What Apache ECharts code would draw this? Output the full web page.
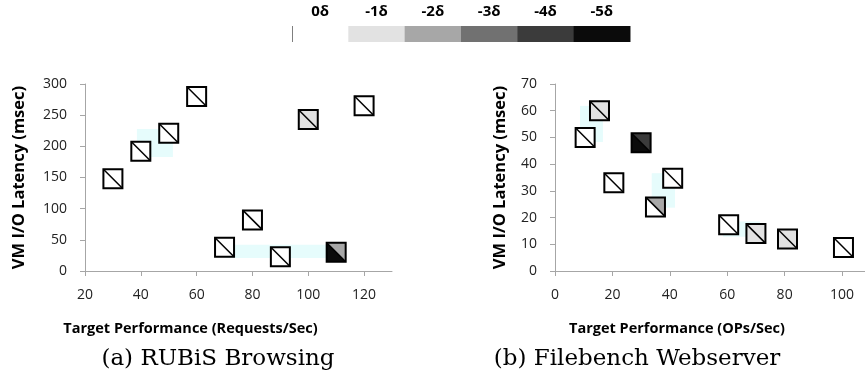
<!DOCTYPE html>
<html>
<head>
<meta charset="utf-8">
<script src="https://cdn.jsdelivr.net/npm/echarts@6/dist/echarts.min.js"></script>
<style>
  html, body { margin: 0; padding: 0; background: #fff; }
  #chart { width: 865px; height: 381px; }
</style>
</head>
<body>
<div id="chart"></div>
<script>
// legend: levels and their grey shades
var levelLabels = ['0δ', '-1δ', '-2δ', '-3δ', '-4δ', '-5δ'];
var shades = ['#ffffff', '#e2e2e2', '#a7a7a7', '#717171', '#3b3b3b', '#0b0b0b'];

// (a) RUBiS Browsing
var rubisX = [30, 40, 50, 60, 70, 80, 90, 100, 110, 120];
var rubisY = [148, 192, 221, 280, 38, 82, 23, 243, 30, 265];
var rubisLower = [0, 0, 0, 0, 0, 0, 0, 1, 5, 0];   // lower-left triangle level
var rubisUpper = [0, 0, 0, 0, 0, 0, 0, 1, 2, 0];   // upper-right triangle level
// highlighted regions [x1, x2, y1, y2]
var rubisZones = [[38.6, 51.5, 183, 228], [70, 110, 21, 42]];

// (b) Filebench Webserver
var fbX = [10.5, 15.5, 20.5, 30, 35, 41, 60.5, 70, 81, 100.5];
var fbY = [50, 60, 33, 48, 24, 34.7, 17.3, 14, 12, 8.8];
var fbLower = [0, 1, 0, 5, 0, 0, 0, 1, 1, 0];
var fbUpper = [0, 1, 0, 4, 2, 0, 0, 1, 1, 0];
var fbZones = [[8.7, 16.7, 48.3, 61.8], [33.7, 41.8, 23.7, 36.6], [58.5, 71.4, 12.8, 18.5]];

var font = 'Open Sans';
var axisColor = '#a6a6a6';

function pts(xs, ys, lo, up) {
    return xs.map(function (x, i) { return [x, ys[i], lo[i], up[i]]; });
}

function renderMarker(params, api) {
    var p = api.coord([api.value(0), api.value(1)]);
    var h = 9.5;
    var x0 = p[0] - h, y0 = p[1] - h, x1 = p[0] + h, y1 = p[1] + h;
    return {
        type: 'group',
        children: [
            { type: 'polygon', shape: { points: [[x0, y0], [x0, y1], [x1, y1]] }, style: { fill: shades[api.value(2)] } },
            { type: 'polygon', shape: { points: [[x0, y0], [x1, y0], [x1, y1]] }, style: { fill: shades[api.value(3)] } },
            { type: 'line', shape: { x1: x0, y1: y0, x2: x1, y2: y1 }, style: { stroke: '#000', lineWidth: 1.5 } },
            { type: 'rect', shape: { x: x0, y: y0, width: 2 * h, height: 2 * h }, style: { fill: null, stroke: '#000', lineWidth: 2 } }
        ]
    };
}

function renderZone(params, api) {
    var a = api.coord([api.value(0), api.value(3)]);
    var b = api.coord([api.value(1), api.value(2)]);
    return {
        type: 'rect',
        shape: { x: a[0], y: a[1], width: b[0] - a[0], height: b[1] - a[1] },
        style: { fill: '#e6fcfc' }
    };
}

function xAxis(idx, min, max, name, nameShift) {
    return {
        type: 'value', gridIndex: idx, min: min, max: max, interval: 20,
        name: name, nameLocation: 'middle', nameGap: 50,
        nameTextStyle: { fontFamily: font, fontWeight: 'bold', fontSize: 14.5, color: '#000', padding: [0, nameShift, 0, 0] },
        axisLine: { lineStyle: { color: axisColor } },
        axisTick: { lineStyle: { color: axisColor }, length: 5 },
        axisLabel: { fontFamily: font, fontSize: 14, color: '#222', margin: 17, showMaxLabel: false },
        splitLine: { show: false }
    };
}

function yAxis(idx, max, interval, gap) {
    return {
        type: 'value', gridIndex: idx, min: 0, max: max, interval: interval,
        name: 'VM I/O Latency (msec)', nameLocation: 'middle', nameGap: gap, nameRotate: 90,
        nameTextStyle: { fontFamily: font, fontWeight: 'bold', fontSize: 16.5, color: '#000' },
        axisLine: { show: true, lineStyle: { color: axisColor } },
        axisTick: { show: true, lineStyle: { color: axisColor }, length: 5 },
        axisLabel: { fontFamily: font, fontSize: 14, color: '#222', margin: 18 },
        splitLine: { show: false }
    };
}

var legendLeft = 292, legendTop = 26, cellW = 56.33, cellH = 16;
var legendGraphics = [];
levelLabels.forEach(function (lab, i) {
    legendGraphics.push({
        type: 'rect', left: legendLeft + i * cellW, top: legendTop,
        shape: { width: cellW + 0.5, height: cellH }, style: { fill: shades[i] }
    });
    legendGraphics.push({
        type: 'text', x: legendLeft + i * cellW + cellW / 2, y: 12,
        style: { text: lab, fontFamily: font, fontWeight: 'bold', fontSize: 15, fill: '#000', align: 'center', verticalAlign: 'middle' }
    });
});
legendGraphics.push({
    type: 'line', shape: { x1: legendLeft + 0.5, y1: legendTop, x2: legendLeft + 0.5, y2: legendTop + cellH },
    style: { stroke: '#7f7f7f', lineWidth: 1 }
});
legendGraphics.push({
    type: 'text', x: 218, y: 359,
    style: { text: '(a) RUBiS Browsing', fontFamily: 'DejaVu Serif', fontSize: 23, fill: '#000', align: 'center', verticalAlign: 'middle' }
});
legendGraphics.push({
    type: 'text', x: 637, y: 359,
    style: { text: '(b) Filebench Webserver', fontFamily: 'DejaVu Serif', fontSize: 23, fill: '#000', align: 'center', verticalAlign: 'middle' }
});

var chart = echarts.init(document.getElementById('chart'));
chart.setOption({
    animation: false,
    grid: [
        { left: 85, top: 84, width: 307, height: 187 },
        { left: 555, top: 84, width: 310, height: 187 }
    ],
    xAxis: [
        xAxis(0, 20, 130, 'Target Performance (Requests/Sec)', 96),
        xAxis(1, 0, 108, 'Target Performance (OPs/Sec)', 66)
    ],
    yAxis: [
        yAxis(0, 300, 50, 57),
        yAxis(1, 70, 10, 46)
    ],
    series: [
        { type: 'custom', xAxisIndex: 0, yAxisIndex: 0, z: 1, renderItem: renderZone, data: rubisZones },
        { type: 'custom', xAxisIndex: 1, yAxisIndex: 1, z: 1, renderItem: renderZone, data: fbZones },
        { type: 'custom', xAxisIndex: 0, yAxisIndex: 0, z: 3, renderItem: renderMarker, data: pts(rubisX, rubisY, rubisLower, rubisUpper) },
        { type: 'custom', xAxisIndex: 1, yAxisIndex: 1, z: 3, renderItem: renderMarker, data: pts(fbX, fbY, fbLower, fbUpper) }
    ],
    graphic: legendGraphics
});
</script>
</body>
</html>
